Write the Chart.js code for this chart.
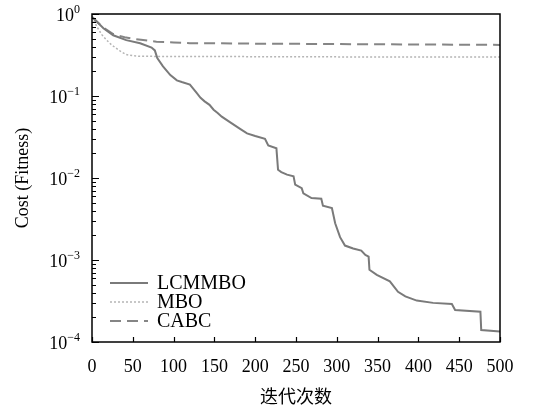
<!DOCTYPE html>
<html>
<head>
<meta charset="utf-8">
<script src="https://cdn.jsdelivr.net/npm/chart.js@4"></script>
<style>
  body { margin: 0; background: #fff; }
  #wrap { width: 533px; height: 409px; }
</style>
</head>
<body>
<div id="wrap"><canvas id="costChart" width="533" height="409"></canvas></div>
<script>
// Convergence curves (iteration, cost)
const lcmmboIter = [0, 2, 14, 26, 42, 59, 73, 77, 80, 87, 96, 104, 110, 120, 128, 133, 138, 144, 149, 154, 159, 169, 181, 190, 200, 212, 216, 226, 228, 232, 239, 247, 249, 257, 259, 269, 281, 283, 294, 298, 304, 310, 320, 330, 335, 339, 340, 349, 365, 375, 384, 398, 418, 441, 445, 476, 477, 500];
const lcmmboCost = [0.92, 0.88, 0.67, 0.55, 0.48, 0.44, 0.39, 0.36, 0.29, 0.23, 0.18, 0.155, 0.148, 0.138, 0.11, 0.095, 0.086, 0.078, 0.068, 0.062, 0.056, 0.048, 0.040, 0.035, 0.0325, 0.030, 0.025, 0.023, 0.0126, 0.0118, 0.011, 0.0105, 0.0083, 0.0075, 0.0065, 0.0057, 0.0056, 0.0046, 0.0043, 0.0028, 0.0019, 0.0015, 0.00138, 0.0013, 0.00115, 0.0011, 0.00076, 0.00066, 0.00055, 0.00041, 0.00036, 0.00032, 0.00030, 0.00029, 0.000245, 0.000234, 0.00014, 0.000134];

const mboIter = [0, 6, 12, 18, 24, 30, 36, 42, 50, 59, 100, 200, 300, 400, 500];
const mboCost = [0.92, 0.70, 0.56, 0.48, 0.42, 0.38, 0.345, 0.32, 0.31, 0.305, 0.303, 0.302, 0.30, 0.30, 0.30];

const cabcIter = [0, 14, 26, 40, 50, 60, 79, 100, 120, 150, 200, 300, 400, 500];
const cabcCost = [0.92, 0.68, 0.57, 0.52, 0.50, 0.485, 0.46, 0.45, 0.44, 0.44, 0.435, 0.43, 0.425, 0.42];

const seriesNames = ['LCMMBO', 'MBO', 'CABC'];
const xTickStep = 50;
const yExponents = [0, -1, -2, -3, -4];

const serif = '"Liberation Serif", "Times New Roman", serif';

function toPoints(xs, ys) {
    return xs.map((x, i) => ({ x: x, y: ys[i] }));
}

// frame, inward ticks, 10^n labels and the legend box
const axesDecor = {
    id: 'axesDecor',
    afterDraw(chart) {
        const ctx = chart.ctx;
        const area = chart.chartArea;
        const xs = chart.scales.x;
        const ys = chart.scales.y;

        ctx.save();
        ctx.strokeStyle = '#000';
        ctx.lineWidth = 1.5;
        ctx.strokeRect(area.left, area.top, area.right - area.left, area.bottom - area.top);

        // y ticks (inside)
        ctx.lineWidth = 1.2;
        ctx.beginPath();
        for (let e = -4; e <= 0; e++) {
            for (let k = 1; k <= 9; k++) {
                const v = k * Math.pow(10, e);
                if (v > 1) break;
                const py = Math.round(ys.getPixelForValue(v)) + 0.5;
                const len = k === 1 ? 7 : 4;
                ctx.moveTo(area.left, py);
                ctx.lineTo(area.left + len, py);
            }
        }
        // x ticks (inside)
        for (let t = 0; t <= 500; t += xTickStep) {
            const px = Math.round(xs.getPixelForValue(t)) + 0.5;
            ctx.moveTo(px, area.bottom);
            ctx.lineTo(px, area.bottom - 5);
        }
        ctx.stroke();

        // y labels 10^n
        ctx.fillStyle = '#000';
        ctx.textBaseline = 'alphabetic';
        yExponents.forEach(e => {
            const py = ys.getPixelForValue(Math.pow(10, e));
            const sup = e === 0 ? '0' : '\u2212' + Math.abs(e);
            ctx.font = '12px ' + serif;
            const supW = ctx.measureText(sup).width;
            const right = 80;
            ctx.textAlign = 'left';
            ctx.fillText(sup, right - supW, py - 1);
            ctx.font = '18px ' + serif;
            ctx.textAlign = 'right';
            ctx.fillText('10', right - supW, py + 7);
        });

        // legend
        const rowY = [283, 302, 321];
        chart.data.datasets.forEach((ds, i) => {
            ctx.strokeStyle = ds.borderColor;
            ctx.lineWidth = ds.borderWidth;
            ctx.setLineDash(ds.borderDash || []);
            ctx.beginPath();
            ctx.moveTo(110, rowY[i]);
            ctx.lineTo(148, rowY[i]);
            ctx.stroke();
            ctx.setLineDash([]);
            ctx.font = '20px ' + serif;
            ctx.textAlign = 'left';
            ctx.textBaseline = 'middle';
            ctx.fillStyle = '#000';
            ctx.fillText(ds.label, 157, rowY[i] + 1);
        });
        ctx.restore();
    }
};

const ctxCost = document.getElementById('costChart').getContext('2d');
new Chart(ctxCost, {
    type: 'line',
    data: {
        datasets: [{
            label: seriesNames[0],
            data: toPoints(lcmmboIter, lcmmboCost),
            borderColor: '#7a7a7a',
            borderWidth: 2,
            pointRadius: 0,
            tension: 0
        }, {
            label: seriesNames[1],
            data: toPoints(mboIter, mboCost),
            borderColor: '#b5b5b5',
            borderWidth: 1.5,
            borderDash: [2, 2],
            pointRadius: 0,
            tension: 0
        }, {
            label: seriesNames[2],
            data: toPoints(cabcIter, cabcCost),
            borderColor: '#858585',
            borderWidth: 2,
            borderDash: [11, 6],
            pointRadius: 0,
            tension: 0
        }]
    },
    options: {
        responsive: false,
        animation: false,
        devicePixelRatio: 1,
        layout: { padding: { top: 14, right: 33, left: 0, bottom: 0 } },
        scales: {
            x: {
                type: 'linear',
                min: 0,
                max: 500,
                grid: { display: false, drawTicks: false },
                border: { display: false },
                ticks: {
                    stepSize: xTickStep,
                    color: '#000',
                    padding: 14,
                    maxRotation: 0,
                    font: { family: serif, size: 18 }
                },
                title: {
                    display: true,
                    text: '迭代次数',
                    color: '#000',
                    padding: { top: 0, bottom: 2 },
                    font: { family: '"Noto Sans CJK SC", sans-serif', size: 18 }
                },
                afterFit: s => { s.height = 67; }
            },
            y: {
                type: 'logarithmic',
                min: 1e-4,
                max: 1,
                grid: { display: false, drawTicks: false },
                border: { display: false },
                ticks: { display: false },
                title: {
                    display: true,
                    text: 'Cost (Fitness)',
                    color: '#000',
                    padding: { top: 12, bottom: 0 },
                    font: { family: serif, size: 18 }
                },
                afterFit: s => { s.width = 92; }
            }
        },
        plugins: {
            legend: { display: false },
            tooltip: { enabled: false }
        }
    },
    plugins: [axesDecor]
});
</script>
</body>
</html>
